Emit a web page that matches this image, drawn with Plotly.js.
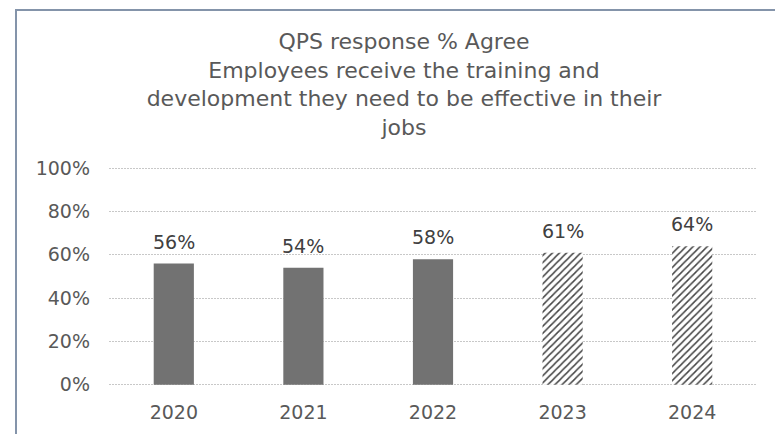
<!DOCTYPE html>
<html>
<head>
<meta charset="utf-8">
<script src="https://cdn.plot.ly/plotly-3.0.1.min.js"></script>
<style>
html,body{margin:0;padding:0;background:#fff;}
#chart{width:775px;height:434px;}
</style>
</head>
<body>
<div id="chart"></div>
<script>
const years = ["2020", "2021", "2022", "2023", "2024"];
const agree = [0.56, 0.54, 0.58, 0.61, 0.64];
const labels = ["56%", "54%", "58%", "61%", "64%"];
const patternShapes = ["", "", "", "/", "/"];
const fillColors = ["#727272", "#727272", "#727272", "#ffffff", "#ffffff"];
const fgColors = ["#727272", "#727272", "#727272", "#4a4a4a", "#4a4a4a"];
const yTicks = [0, 0.2, 0.4, 0.6, 0.8, 1.0];
const yTickText = ["0%", "20%", "40%", "60%", "80%", "100%"];

const W = 775, H = 434;
const mL = 109, mR = 18, mT = 166, mB = 47;
const pw = W - mL - mR, ph = H - mT - mB;
const FONT = "DejaVu Sans, Verdana, sans-serif";

const trace = {
  type: "bar",
  x: years,
  y: agree,
  width: 0.31,
  marker: {
    color: fillColors,
    line: {width: 0},
    pattern: {shape: patternShapes, fgcolor: fgColors, fgopacity: 1, size: 5, solidity: 0.3, fillmode: "overlay"}
  },
  hoverinfo: "none"
};

const annotations = years.map((yr, i) => ({
  x: i, y: agree[i], xref: "x", yref: "y",
  text: labels[i], showarrow: false,
  xanchor: "center", yanchor: "bottom", yshift: 9,
  font: {family: FONT, size: 19, color: "#404040"}
}));

const layout = {
  width: W, height: H,
  margin: {l: mL, r: mR, t: mT, b: mB},
  paper_bgcolor: "#ffffff",
  plot_bgcolor: "#ffffff",
  showlegend: false,
  font: {family: FONT, color: "#595959"},
  title: {
    text: "QPS response % Agree<br>Employees receive the training and<br>development they need to be effective in their<br>jobs",
    font: {family: FONT, size: 22, color: "#595959"},
    x: 404 / W, xref: "container", xanchor: "center",
    y: 1 - 49 / H, yref: "container", yanchor: "top"
  },
  xaxis: {
    type: "category",
    categoryarray: years,
    range: [-0.5, 4.5],
    showgrid: false, zeroline: false, showline: false,
    ticks: "", ticklabelstandoff: 12,
    tickfont: {family: FONT, size: 19, color: "#595959"}
  },
  yaxis: {
    range: [-0.01, 1.01],
    tickvals: yTicks, ticktext: yTickText,
    showgrid: true, gridcolor: "#c8c8c8", griddash: "2px,1px", gridwidth: 1,
    zeroline: false, showline: false,
    ticks: "", ticklabelstandoff: 18,
    tickfont: {family: FONT, size: 19, color: "#595959"}
  },
  annotations: annotations,
  shapes: [{
    type: "rect", xref: "paper", yref: "paper",
    x0: (16 - mL) / pw, x1: (W + 5 - mL) / pw,
    y0: -(mB + 5) / ph, y1: (H - 10 - mB) / ph,
    line: {color: "#8494aa", width: 2}, fillcolor: "rgba(0,0,0,0)", layer: "below"
  }]
};

Plotly.newPlot("chart", [trace], layout, {displayModeBar: false, staticPlot: true});
</script>
</body>
</html>
